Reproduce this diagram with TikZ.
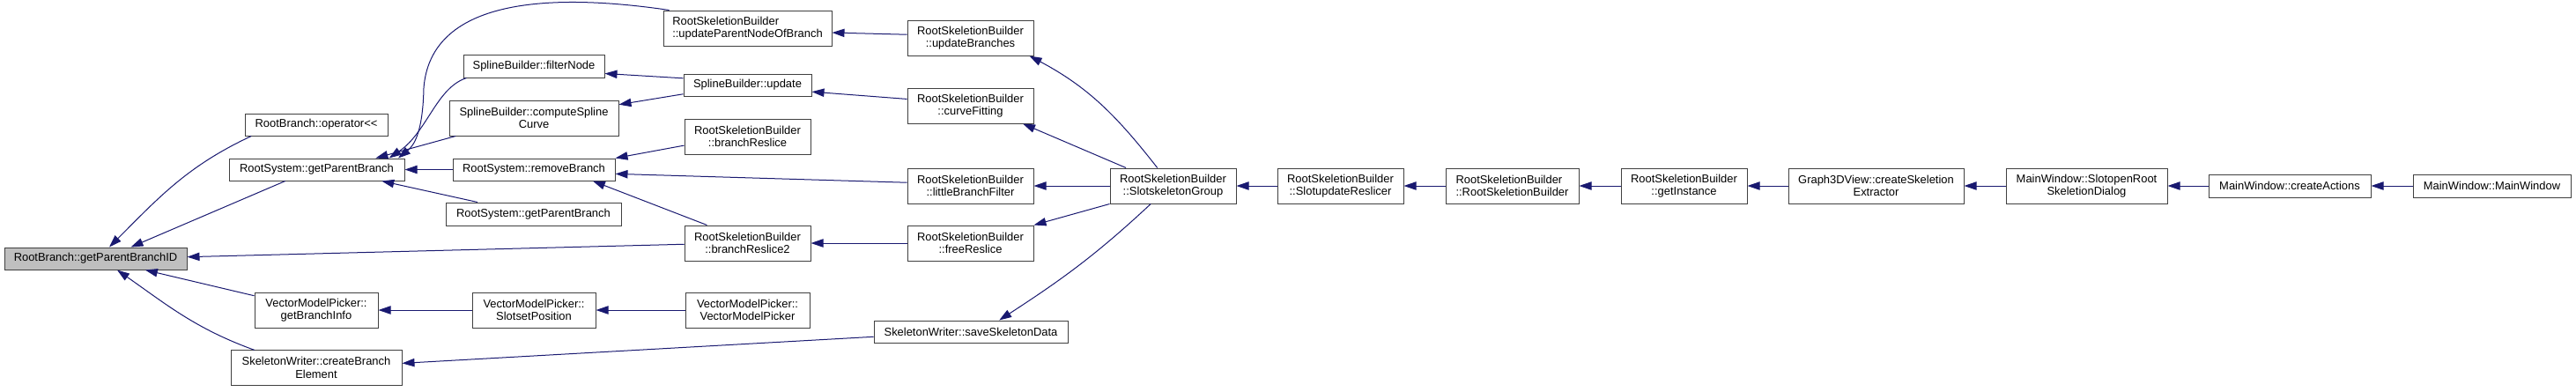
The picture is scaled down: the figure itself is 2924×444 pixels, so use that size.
\documentclass[tikz,border=0pt]{standalone}
\usepackage{fontspec}
\setmainfont{Liberation Sans}
\usetikzlibrary{arrows.meta}
\definecolor{edgec}{HTML}{191970}
\definecolor{fillg}{HTML}{BFBFBF}
\definecolor{borderc}{HTML}{404040}
\begin{document}
\begin{tikzpicture}[x=0.75pt,y=-0.75pt,
  box/.style={draw=borderc, line width=0.75pt, fill=white, inner sep=0pt,
    font=\fontsize{9.7}{11}\selectfont, align=center},
  edge/.style={draw=edgec, line width=0.75pt, -{Triangle[length=10.5pt,width=7pt]}}]
\useasboundingbox (0,0) rectangle (2924,444);
% nodes
\node[box, fill=fillg, minimum width=155.25pt, minimum height=18.75pt] (gpbid) at (108.5,293.5) {RootBranch::getParentBranchID};
\node[box, minimum width=121.5pt, minimum height=18.75pt] (op) at (359,141.5) {RootBranch::operator<{}<};
\node[box, minimum width=149.25pt, minimum height=18.75pt] (gpb1) at (359.5,192.5) {RootSystem::getParentBranch};
\node[box, minimum width=105pt, minimum height=30pt] (gbi) at (359,352) {VectorModelPicker::\\getBranchInfo};
\node[box, minimum width=145.5pt, minimum height=29.5pt] (cbe) at (359,417.5) {SkeletonWriter::createBranch\\Element};
\node[box, align=left, minimum width=143.25pt, minimum height=30pt] (upnob) at (848.5,32) {RootSkeletionBuilder\\::updateParentNodeOfBranch};
\node[box, minimum width=120pt, minimum height=19.5pt] (fnode) at (606,75) {SplineBuilder::filterNode};
\node[box, minimum width=144pt, minimum height=30pt] (csc) at (606,134) {SplineBuilder::computeSpline\\Curve};
\node[box, minimum width=138pt, minimum height=18.75pt] (rmb) at (606,192.5) {RootSystem::removeBranch};
\node[box, minimum width=149.25pt, minimum height=19.5pt] (gpb2) at (605.5,243) {RootSystem::getParentBranch};
\node[box, minimum width=108.75pt, minimum height=18.75pt] (upd) at (848.5,96.5) {SplineBuilder::update};
\node[box, minimum width=107.25pt, minimum height=30pt] (brs) at (848.5,155) {RootSkeletionBuilder\\::branchReslice};
\node[box, minimum width=107.25pt, minimum height=30pt] (brs2) at (848.5,276) {RootSkeletionBuilder\\::branchReslice2};
\node[box, minimum width=105pt, minimum height=30pt] (ssp) at (606,352) {VectorModelPicker::\\SlotsetPosition};
\node[box, minimum width=105.75pt, minimum height=30pt] (vmp) at (848.5,352) {VectorModelPicker::\\VectorModelPicker};
\node[box, minimum width=107.25pt, minimum height=30pt] (ub) at (1101.5,43) {RootSkeletionBuilder\\::updateBranches};
\node[box, minimum width=107.25pt, minimum height=30pt] (cf) at (1101.5,120) {RootSkeletionBuilder\\::curveFitting};
\node[box, minimum width=107.25pt, minimum height=30pt] (lbf) at (1101.5,211) {RootSkeletionBuilder\\::littleBranchFilter};
\node[box, minimum width=107.25pt, minimum height=30pt] (fr) at (1101.5,276) {RootSkeletionBuilder\\::freeReslice};
\node[box, minimum width=165pt, minimum height=18.75pt] (ssd) at (1102,376.5) {SkeletonWriter::saveSkeletonData};
\node[box, minimum width=107.25pt, minimum height=30pt] (ssg) at (1331.5,211) {RootSkeletionBuilder\\::SlotskeletonGroup};
\node[box, minimum width=107.25pt, minimum height=30pt] (sur) at (1521.5,211) {RootSkeletionBuilder\\::SlotupdateReslicer};
\node[box, align=left, minimum width=113.25pt, minimum height=30pt] (rsb) at (1716.5,211) {RootSkeletionBuilder\\::RootSkeletionBuilder};
\node[box, minimum width=107.25pt, minimum height=30pt] (gi) at (1911.5,211) {RootSkeletionBuilder\\::getInstance};
\node[box, minimum width=149.25pt, minimum height=30pt] (cse) at (2129.5,211) {Graph3DView::createSkeletion\\Extractor};
\node[box, minimum width=137.25pt, minimum height=30pt] (sor) at (2368.5,211) {MainWindow::SlotopenRoot\\SkeletionDialog};
\node[box, minimum width=138pt, minimum height=19.5pt] (ca) at (2599,211) {MainWindow::createActions};
\node[box, minimum width=134.25pt, minimum height=19.5pt] (mw) at (2828.5,211) {MainWindow::MainWindow};
% edges
\draw[edge] (op.190.3) to[out=205,in=45] (gpbid.40.8);
\draw[edge] (gpb1.200.5) -- (gpbid.18.4);
\draw[edge] (brs2.181.6) -- (gpbid.1.4);
\draw[edge] (gbi.167.1) -- (gpbid.347.5);
\draw[edge] (cbe.164.6) to[out=160,in=-35] (gpbid.332);
\draw[edge] (upnob.167.7) .. controls (600,-12) and (488,8) .. (481,100) .. controls (480,150) and (470,165) .. (gpb1.8.2);
\draw[edge] (fnode.190.4) .. controls (495,100) and (485,150) .. (gpb1.9);
\draw[edge] (csc.193.4) -- (gpb1.11);
\draw[edge] (rmb.west) -- (gpb1.east);
\draw[edge] (gpb2.168.2) -- (gpb1.350);
\draw[edge] (upd.174.9) -- (fnode.354.4);
\draw[edge] (upd.188.2) -- (csc.9.4);
\draw[edge] (brs.188.7) -- (rmb.8.5);
\draw[edge] (lbf.177.6) -- (rmb.357.8);
\draw[edge] (brs2.156.7) -- (rmb.349.4);
\draw[edge] (ub.177.6) -- (upnob.357);
\draw[edge] (cf.174.4) -- (upd.354.1);
\draw[edge] (fr.west) -- (brs2.east);
\draw[edge] (ssp.west) -- (gbi.east);
\draw[edge] (vmp.west) -- (ssp.east);
\draw[edge] (ssd.183.4) -- (cbe.3.2);
\draw[edge] (ssg.131.2) to[out=128,in=-28] (ub.343.7);
\draw[edge] (ssg.159.1) -- (cf.341.1);
\draw[edge] (ssg.west) -- (lbf.east);
\draw[edge] (ssg.south west) -- (fr.north east);
\draw[edge] (ssg.219.2) to[out=223,in=33] (ssd.22.6);
\draw[edge] (sur.west) -- (ssg.east);
\draw[edge] (rsb.west) -- (sur.east);
\draw[edge] (gi.west) -- (rsb.east);
\draw[edge] (cse.west) -- (gi.east);
\draw[edge] (sor.west) -- (cse.east);
\draw[edge] (ca.west) -- (sor.east);
\draw[edge] (mw.west) -- (ca.east);
\end{tikzpicture}
\end{document}
